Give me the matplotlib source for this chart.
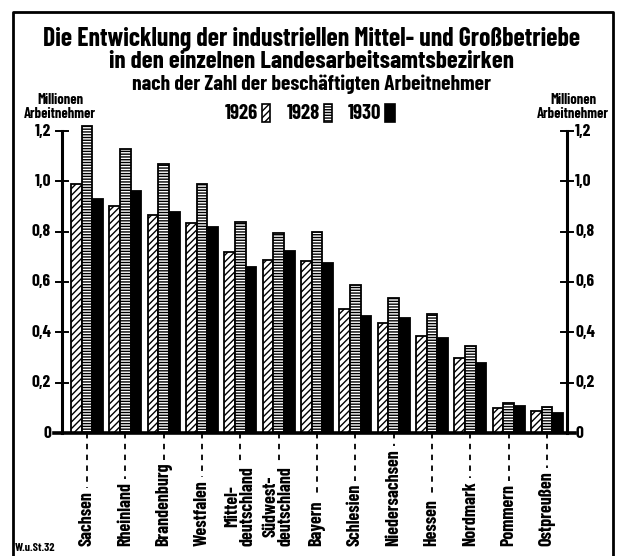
import matplotlib
matplotlib.use("Agg")
import matplotlib.pyplot as plt
from matplotlib.patches import Rectangle
from matplotlib.lines import Line2D
import numpy as np

plt.rcParams['font.family'] = ['Barlow Condensed', 'DejaVu Sans']
plt.rcParams['hatch.linewidth'] = 1.0

# ---- data ----
regions = ["Sachsen", "Rheinland", "Brandenburg", "Westfalen", "Mittel-\ndeutschland",
           "Südwest-\ndeutschland", "Bayern", "Schlesien", "Niedersachsen", "Hessen",
           "Nordmark", "Pommern", "Ostpreußen"]
v1926 = [0.99, 0.90, 0.865, 0.833, 0.718, 0.687, 0.683, 0.492, 0.437, 0.385, 0.298, 0.099, 0.087]
v1928 = [1.218, 1.127, 1.07, 0.988, 0.837, 0.794, 0.798, 0.587, 0.536, 0.472, 0.345, 0.119, 0.103]
v1930 = [0.929, 0.96, 0.88, 0.818, 0.66, 0.722, 0.675, 0.464, 0.456, 0.377, 0.278, 0.107, 0.079]
years = ["1926", "1928", "1930"]
yticks = [0, 0.2, 0.4, 0.6, 0.8, 1.0, 1.2]
ytick_labels = ["0", "0,2", "0,4", "0,6", "0,8", "1,0", "1,2"]

W, H = 623, 556
fig = plt.figure(figsize=(W / 100, H / 100), dpi=100)

def fx(px):
    return px / W

def fy(py):
    return 1 - py / H

ax_l, ax_r, ax_t, ax_b = 62, 567, 131, 433
ax = fig.add_axes([fx(ax_l), fy(ax_b), fx(ax_r - ax_l), (ax_b - ax_t) / H])
ax.set_xlim(-0.652, 12.52)
ax.set_ylim(0, 1.2)
ax.axis('off')

x = np.arange(len(regions))
bw = 0.28
styles = [dict(facecolor='white', hatch='/////'),
          dict(facecolor='white', hatch='------'),
          dict(facecolor='black', hatch=None)]
for i, (vals, st) in enumerate(zip([v1926, v1928, v1930], styles)):
    ax.bar(x + (i - 1) * bw, vals, width=bw, edgecolor='black', linewidth=1.3,
           clip_on=False, zorder=2, **st)

# axes lines
trans = ax.get_yaxis_transform()
ax.plot([0, 0], [0, 1.2], transform=trans, color='black', lw=2.2, clip_on=False, zorder=3)
ax.plot([1, 1], [0, 1.2], transform=trans, color='black', lw=2.2, clip_on=False, zorder=3)
ax.plot([-0.015, 1.015], [0, 0], transform=trans, color='black', lw=2.6, clip_on=False, zorder=3)
for yv, lab in zip(yticks, ytick_labels):
    if yv > 0:
        ax.plot([-0.012, 0.012], [yv, yv], transform=trans, color='black', lw=1.4, clip_on=False)
        ax.plot([0.988, 1.012], [yv, yv], transform=trans, color='black', lw=1.4, clip_on=False)
    ax.text(-0.022, yv, lab, transform=trans, ha='right', va='center', fontsize=12.5, fontweight='bold')
    ax.text(1.016, yv, lab, transform=trans, ha='left', va='center', fontsize=12.5, fontweight='bold')

# category labels (rotated) with dashed leader lines
fig.canvas.draw()
label_bottom_px = 546
texts = []
for xi, name in zip(x, regions):
    xd = ax.transData.transform((xi, 0))[0]
    t = fig.text(xd / W, fy(label_bottom_px), name, rotation=90, ha='center', va='bottom',
                 fontsize=13, fontweight='bold', linespacing=0.85, multialignment='center')
    texts.append((xi, t))
fig.canvas.draw()
r = fig.canvas.get_renderer()
for xi, t in texts:
    bb = t.get_window_extent(r)
    y_top = ax.transData.inverted().transform((0, bb.y1 + 3))[1]
    ax.plot([xi, xi], [0, y_top], color='black', lw=1.3, ls=(0, (3, 3)), clip_on=False, zorder=1)

# title
fig.text(0.5, fy(39), "Die Entwicklung der industriellen Mittel- und Großbetriebe",
         ha='center', va='center', fontsize=18.5, fontweight='bold')
fig.text(0.5, fy(62), "in den einzelnen Landesarbeitsamtsbezirken",
         ha='center', va='center', fontsize=18, fontweight='bold')
fig.text(0.5, fy(84), "nach der Zahl der beschäftigten Arbeitnehmer",
         ha='center', va='center', fontsize=15.5, fontweight='bold')

# unit labels
for cx in (60, 573):
    fig.text(fx(cx), fy(100), "Millionen", ha='center', va='center', fontsize=10.5, fontweight='bold')
    fig.text(fx(cx), fy(114), "Arbeitnehmer", ha='center', va='center', fontsize=10.5, fontweight='bold')

# legend
leg_y = 113
text_right = [258, 320, 381]
patch_x = [262, 324, 385]
patch_w = [8, 8, 10]
for yr, tr, px, pw, st in zip(years, text_right, patch_x, patch_w, styles):
    fig.text(fx(tr), fy(leg_y), yr, ha='right', va='center', fontsize=15, fontweight='bold')
    rect = Rectangle((fx(px), fy(leg_y + 9)), fx(pw), 18 / H, transform=fig.transFigure,
                     edgecolor='black', linewidth=1.2, facecolor=st['facecolor'],
                     hatch=st['hatch'])
    fig.add_artist(rect)

# frame (open at bottom)
fig.add_artist(Line2D([fx(13), fx(13), fx(613), fx(613)], [0, fy(12), fy(12), 0],
                      transform=fig.transFigure, color='black', lw=2))

fig.text(fx(15), fy(548), "W.u.St.32", ha='left', va='center', fontsize=8.5, fontweight='bold')

fig.savefig("out.png", dpi=100)
